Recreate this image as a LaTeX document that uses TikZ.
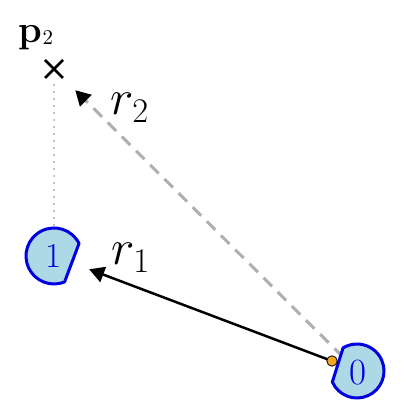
\documentclass[tikz,border=0pt]{standalone}
\usepackage{fontspec}
\usetikzlibrary{arrows.meta,calc}
\definecolor{robfill}{HTML}{ADD8E6}
\definecolor{robedge}{RGB}{0,0,225}
\definecolor{dotorange}{RGB}{245,166,35}
\definecolor{lgray}{RGB}{175,175,175}
\begin{document}
\begin{tikzpicture}[x=0.5pt,y=0.5pt,
  robot/.style={draw=robedge,fill=robfill,line width=1.5pt,line join=round},
  rlabel/.style={inner sep=0pt,anchor=base west,font=\fontsize{23}{28}\selectfont},
  tipstyle/.style={-{Triangle[length=7.5pt,width=8pt,color=black]}}]
\useasboundingbox (0,0) rectangle (407,416);
% named positions
\coordinate (n0) at (357,45);
\coordinate (n1) at (54,160);
\coordinate (p2) at (54,347);
\coordinate (dot) at (332,55);
% dashed r2 arrow (under robot 0)
\draw[lgray,line width=1.5pt,dash pattern=on 6pt off 4pt,tipstyle,shorten >=15pt] (n0) -- (p2);
% dotted line from p2 to robot 1
\draw[lgray,line width=1.2pt,line cap=round,dash pattern=on 0pt off 3.5pt,shorten <=8pt] (p2) -- (n1);
% cross at p2
\draw[line width=1.4pt] ($(p2)+(-9,-9)$) -- ($(p2)+(9,9)$) ($(p2)+(-9,9)$) -- ($(p2)+(9,-9)$);
% robots
\draw[robot] (n1) ++(26.6:14pt) arc[start angle=26.6,end angle=292.2,radius=14pt] -- cycle;
\draw[robot] (n0) ++(204:13.5pt) arc[start angle=204,end angle=481,radius=13.5pt] -- cycle;
\node[text=robedge,inner sep=0pt,font=\fontsize{17.5}{20}\selectfont] (l1) at (54,160) {1};
\node[text=robedge,inner sep=0pt,font=\fontsize{18.5}{21}\selectfont] (l0) at (358,43) {0};
% r1 arrow
\draw[black,line width=1.25pt,tipstyle,shorten >=18.8pt] (dot) -- (n1);
\fill[dotorange,draw=black,line width=0.4pt] (dot) circle[radius=2.6pt];
% labels
\node[rlabel] (r1) at (111,151) {$r_1$};
\node[rlabel] (r2) at (110,301) {$r_2$};
\node[inner sep=0pt,anchor=base west] (p2l) at (18,373) {\fontsize{19}{22}\selectfont\bfseries p\kern0.2pt\raisebox{-0.6pt}{\fontsize{10.5}{12}\selectfont\mdseries 2}};
\end{tikzpicture}
\end{document}
